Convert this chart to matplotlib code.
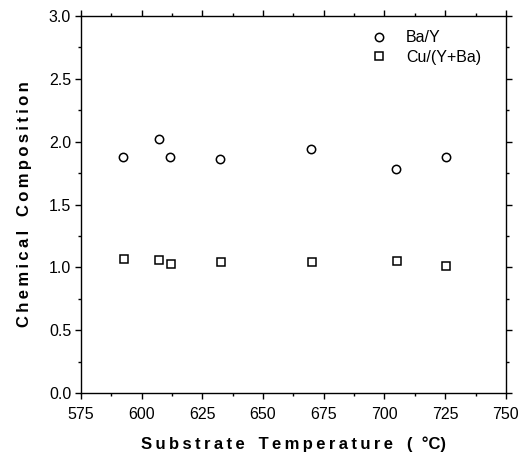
import matplotlib
matplotlib.use('Agg')
import matplotlib.pyplot as plt
from matplotlib.ticker import MultipleLocator

# data
temp_ba = [592.4, 607.3, 611.8, 632.2, 669.8, 704.7, 725.2]
ba_y = [1.88, 2.02, 1.88, 1.86, 1.94, 1.78, 1.88]
temp_cu = [592.6, 607.3, 612.0, 632.5, 670.0, 705.0, 725.5]
cu_yba = [1.07, 1.06, 1.03, 1.04, 1.04, 1.05, 1.01]

x_ticks = [575, 600, 625, 650, 675, 700, 725, 750]
y_ticks = [0.0, 0.5, 1.0, 1.5, 2.0, 2.5, 3.0]

plt.rcParams['font.family'] = ['Liberation Sans', 'DejaVu Sans']


def spaced(text):
    # the original labels are letter-spaced
    words = text.split(' ')
    return '   '.join('\u2009'.join(w) for w in words)


fig = plt.figure(figsize=(5.32, 4.53), dpi=100)
ax = fig.add_axes([0.152, 0.132, 0.799, 0.833])

ax.plot(temp_ba, ba_y, 'o', mfc='white', mec='black', mew=1.1, ms=6, label='Ba/Y')
ax.plot(temp_cu, cu_yba, 's', mfc='white', mec='black', mew=1.1, ms=5.5, label='Cu/(Y+Ba)')

ax.set_xlim(575, 750)
ax.set_ylim(0, 3.0)
ax.set_xticks(x_ticks)
ax.set_yticks(y_ticks)
ax.set_yticklabels([f'{v:.1f}' for v in y_ticks])
ax.xaxis.set_minor_locator(MultipleLocator(12.5))
ax.yaxis.set_minor_locator(MultipleLocator(0.25))

ax.tick_params(which='both', direction='out', top=True, right=True,
               labelsize=11.5, width=1)
ax.tick_params(axis='x', pad=6)
ax.tick_params(axis='y', pad=3)
ax.tick_params(which='major', length=4)
ax.tick_params(which='minor', length=2.5)
for s in ax.spines.values():
    s.set_linewidth(1)

ax.set_xlabel(spaced('Substrate Temperature') + '   (  °C)',
              fontsize=12, fontweight='bold', labelpad=10)
ax.set_ylabel(spaced('Chemical Composition'),
              fontsize=12, fontweight='bold', labelpad=12)

ax.legend(loc='upper right', frameon=False, fontsize=11.5, handletextpad=0.7,
          borderaxespad=0.5, labelspacing=0.3, bbox_to_anchor=(0.975, 1.0))

fig.savefig('out.png', dpi=100)
